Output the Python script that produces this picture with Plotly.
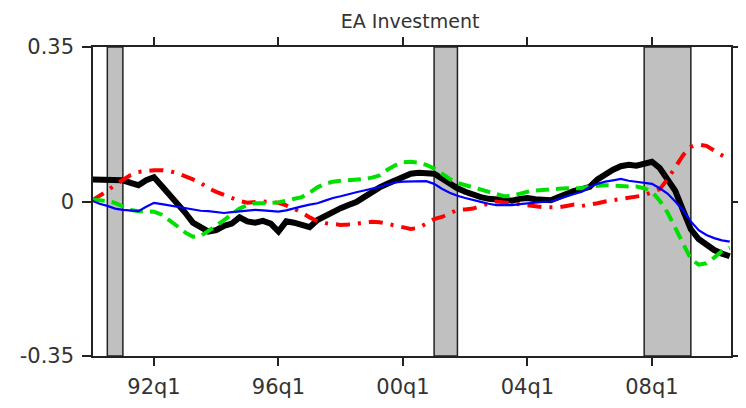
import plotly.graph_objects as go

# Quarterly dates 1990q1 .. 2010q3 expressed as year + (q-1)/4
start_year = 1990
n_q = 83
quarters = [start_year + i / 4 for i in range(n_q)]

black = [0.050, 0.050, 0.051, 0.049, 0.048, 0.042, 0.037, 0.048, 0.055, 0.035,
         0.016, -0.004, -0.025, -0.048, -0.060, -0.068, -0.065, -0.055, -0.050, -0.036,
         -0.045, -0.048, -0.044, -0.050, -0.068, -0.045, -0.048, -0.052, -0.058, -0.042,
         -0.033, -0.022, -0.015, -0.008, -0.001, 0.010, 0.022, 0.032, 0.040, 0.048,
         0.057, 0.063, 0.065, 0.064, 0.063, 0.052, 0.040, 0.030, 0.022, 0.015,
         0.010, 0.006, 0.004, 0.003, 0.002, 0.006, 0.008, 0.005, 0.004, 0.003,
         0.010, 0.018, 0.024, 0.028, 0.033, 0.050, 0.062, 0.072, 0.080, 0.083,
         0.081, 0.085, 0.090, 0.076, 0.052, 0.024, -0.020, -0.063, -0.085, -0.098,
         -0.110, -0.118, -0.124]

blue = [0.002, -0.005, -0.010, -0.016, -0.019, -0.021, -0.022, -0.012, -0.003, -0.006,
        -0.009, -0.012, -0.016, -0.019, -0.021, -0.022, -0.024, -0.026, -0.024, -0.022,
        -0.020, -0.019, -0.020, -0.022, -0.023, -0.020, -0.015, -0.011, -0.007, -0.004,
        0.002, 0.008, 0.012, 0.017, 0.021, 0.025, 0.029, 0.033, 0.039, 0.043,
        0.045, 0.045, 0.046, 0.046, 0.040, 0.029, 0.020, 0.013, 0.008, 0.003,
        -0.001, -0.005, -0.008, -0.008, -0.008, -0.006, -0.004, -0.002, -0.001, 0.000,
        0.006, 0.012, 0.017, 0.022, 0.033, 0.040, 0.045, 0.048, 0.051, 0.047,
        0.045, 0.043, 0.040, 0.030, 0.018, 0.000, -0.020, -0.045, -0.065, -0.076,
        -0.083, -0.088, -0.091]

red = [0.002, 0.012, 0.024, 0.038, 0.048, 0.060, 0.067, 0.070, 0.071, 0.071,
       0.069, 0.064, 0.058, 0.050, 0.042, 0.030, 0.022, 0.015, 0.006, 0.001,
       -0.003, -0.001, 0.000, -0.001, -0.003, -0.009, -0.016, -0.025, -0.036, -0.045,
       -0.049, -0.052, -0.053, -0.052, -0.050, -0.047, -0.046, -0.047, -0.051, -0.056,
       -0.059, -0.062, -0.060, -0.050, -0.040, -0.035, -0.027, -0.019, -0.018, -0.016,
       -0.010, -0.004, 0.000, -0.002, -0.004, -0.007, -0.010, -0.012, -0.013, -0.013,
       -0.013, -0.010, -0.007, -0.010, -0.008, -0.004, 0.000, 0.003, 0.006, 0.008,
       0.010, 0.014, 0.021, 0.028, 0.050, 0.078, 0.105, 0.124, 0.129, 0.126,
       0.115, 0.103, 0.094]

green = [0.004, 0.003, 0.001, -0.003, -0.010, -0.019, -0.022, -0.023, -0.023, -0.030,
         -0.042, -0.056, -0.070, -0.080, -0.078, -0.067, -0.055, -0.042, -0.028, -0.016,
         -0.008, -0.004, -0.004, -0.003, -0.002, 0.002, 0.006, 0.010, 0.020, 0.032,
         0.040, 0.045, 0.047, 0.048, 0.049, 0.051, 0.054, 0.059, 0.072, 0.082,
         0.089, 0.090, 0.088, 0.083, 0.075, 0.063, 0.051, 0.042, 0.037, 0.031,
         0.026, 0.022, 0.016, 0.012, 0.013, 0.018, 0.022, 0.025, 0.027, 0.028,
         0.029, 0.030, 0.030, 0.030, 0.034, 0.036, 0.037, 0.036, 0.034, 0.034,
         0.034, 0.030, 0.022, 0.002, -0.025, -0.060, -0.097, -0.130, -0.143, -0.140,
         -0.127, -0.112, -0.105]

rec_start = [1990.5, 2001.0, 2007.75]
rec_end = [1991.0, 2001.75, 2009.25]

tick_vals = [1992, 1996, 2000, 2004, 2008]
tick_text = ["92q1", "96q1", "00q1", "04q1", "08q1"]
y_ticks = [-0.35, 0, 0.35]
y_text = ["-0.35", "0", "0.35"]

fig = go.Figure()

for s, e in zip(rec_start, rec_end):
    fig.add_shape(type="rect", xref="x", yref="paper", x0=s, x1=e, y0=0, y1=1,
                  fillcolor="#c0c0c0", line=dict(color="#222222", width=1.5),
                  layer="below")

fig.add_trace(go.Scatter(x=quarters, y=black, mode="lines",
                         line=dict(color="black", width=6), showlegend=False))
fig.add_trace(go.Scatter(x=quarters, y=red, mode="lines",
                         line=dict(color="#ff0000", width=4, dash="14px,8px,3px,8px"),
                         showlegend=False))
fig.add_trace(go.Scatter(x=quarters, y=green, mode="lines",
                         line=dict(color="#00e000", width=4, dash="13px,7px"),
                         showlegend=False))
fig.add_trace(go.Scatter(x=quarters, y=blue, mode="lines",
                         line=dict(color="#0000ff", width=2.2), showlegend=False))

axis_font = dict(family="DejaVu Sans", size=21, color="#333333")

fig.update_layout(
    width=746, height=408,
    margin=dict(l=85, r=21, t=39, b=60),
    paper_bgcolor="white", plot_bgcolor="white",
    title=dict(text="EA Investment", x=0.539, xanchor="center", y=0.968, yanchor="middle",
               font=dict(family="DejaVu Sans", size=19, color="#333333")),
    xaxis=dict(range=[1990.04, 2010.54], tickvals=tick_vals, ticktext=tick_text,
               showgrid=False, zeroline=False, showline=True, linecolor="#222222",
               linewidth=1.5, mirror="ticks", ticks="outside", ticklen=8,
               tickwidth=1.5, tickcolor="#222222", tickfont=axis_font,
               ticklabelstandoff=3),
    yaxis=dict(range=[-0.35, 0.35], tickvals=y_ticks, ticktext=y_text,
               showgrid=False, zeroline=False, showline=True, linecolor="#222222",
               linewidth=1.5, mirror="ticks", ticks="outside", ticklen=9,
               tickwidth=1.5, tickcolor="#222222", tickfont=axis_font,
               ticklabelstandoff=4),
)

fig.write_html("out.html")
